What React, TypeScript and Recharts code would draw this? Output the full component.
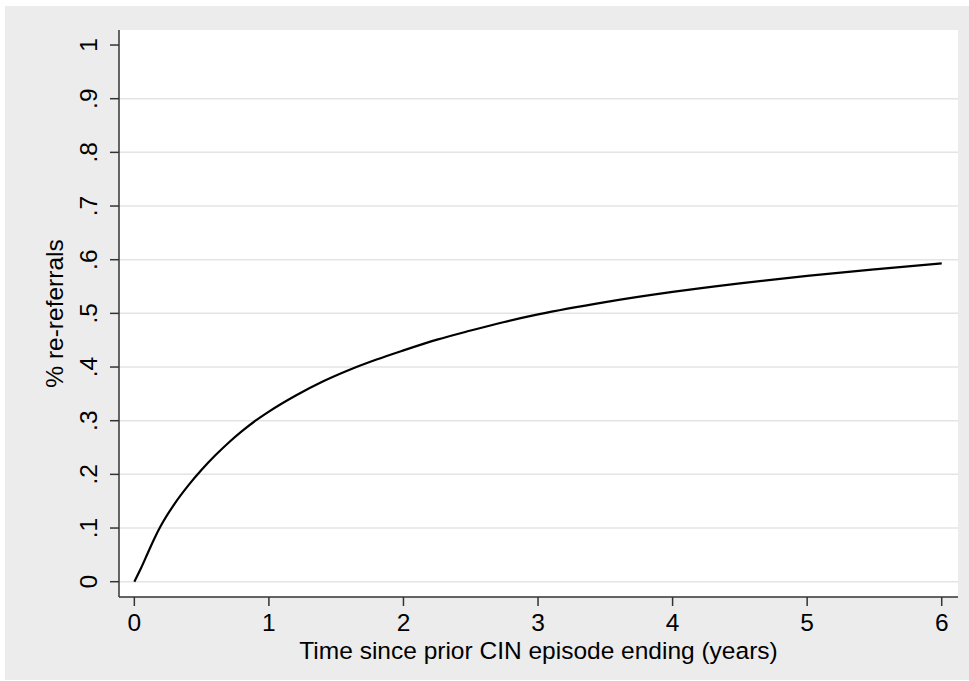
import { LineChart, Line, XAxis, YAxis, CartesianGrid, Label } from 'recharts';

// cumulative share of re-referrals
const years = [0, 0.05, 0.1, 0.15, 0.2, 0.3, 0.4, 0.5, 0.6, 0.7, 0.8, 0.9, 1.0, 1.2, 1.4, 1.6, 1.8, 2.0, 2.25, 2.5, 2.75, 3.0, 3.5, 4.0, 4.5, 5.0, 5.5, 6.0];
const reReferrals = [0, 0.0255, 0.0535, 0.081, 0.1055, 0.1455, 0.179, 0.2085, 0.235, 0.259, 0.2805, 0.3, 0.317, 0.347, 0.373, 0.395, 0.414, 0.431, 0.451, 0.468, 0.484, 0.498, 0.521, 0.54, 0.556, 0.57, 0.582, 0.593];

const xTicks = [0, 1, 2, 3, 4, 5, 6];
const yTicks = [0, 0.1, 0.2, 0.3, 0.4, 0.5, 0.6, 0.7, 0.8, 0.9, 1];
const yTickLabels = ['0', '.1', '.2', '.3', '.4', '.5', '.6', '.7', '.8', '.9', '1'];
const gridValues = [0, 0.1, 0.2, 0.3, 0.4, 0.5, 0.6, 0.7, 0.8, 0.9];

const xTitle = 'Time since prior CIN episode ending (years)';
const yTitle = '% re-referrals';

const data = years.map((t, i) => ({ t, v: reReferrals[i] }));

const FONT = '"Liberation Sans", Arial, sans-serif';
const FS = 24.5;

const YTick = ({ x, y, payload }: any) => {
  const i = yTicks.indexOf(payload.value);
  return (
    <text x={x} y={y} transform={`rotate(-90 ${x} ${y})`} textAnchor="middle"
      fontFamily={FONT} fontSize={FS} fill="#000">
      {i >= 0 ? yTickLabels[i] : payload.value}
    </text>
  );
};

const XTitle = ({ viewBox }: any) => {
  const cx = viewBox.x + viewBox.width / 2;
  return (
    <text x={cx} y={653} textAnchor="middle" fontFamily={FONT} fontSize={FS} fill="#000">
      {xTitle}
    </text>
  );
};

const YTitle = ({ viewBox }: any) => {
  const cy = viewBox.y + viewBox.height / 2;
  const x = 58;
  return (
    <text x={x} y={cy} transform={`rotate(-90 ${x} ${cy})`} textAnchor="middle"
      fontFamily={FONT} fontSize={FS} fill="#000">
      {yTitle}
    </text>
  );
};

export default function App() {
  return (
    <div style={{ position: 'absolute', left: 0, top: 0, width: 969, height: 681, background: '#fff' }}>
      <div style={{ position: 'absolute', left: 5, top: 6, width: 964, height: 674, background: '#ececec' }}>
        <LineChart width={964} height={674} data={data}
          margin={{ top: 24, right: 11, left: 0, bottom: 0 }}>
          <CartesianGrid horizontal vertical={false} fill="#ffffff" stroke="#e4e4e4"
            strokeWidth={1.5} horizontalValues={gridValues} />
          <XAxis dataKey="t" type="number" domain={[-0.114, 6.121]} ticks={xTicks}
            height={83} tickSize={9} tickMargin={8} interval={0}
            axisLine={{ stroke: '#333', strokeWidth: 1.5 }} tickLine={{ stroke: '#333', strokeWidth: 1.5 }}
            tick={{ fill: '#000', fontSize: FS, fontFamily: FONT }}>
            <Label content={<XTitle />} />
          </XAxis>
          <YAxis type="number" domain={[-0.0285, 1.028]} ticks={yTicks} width={114}
            tickSize={9} tickMargin={13} interval={0}
            axisLine={{ stroke: '#333', strokeWidth: 1.5 }} tickLine={{ stroke: '#333', strokeWidth: 1.5 }}
            tick={<YTick />}>
            <Label content={<YTitle />} />
          </YAxis>
          <Line type="monotone" dataKey="v" stroke="#000" strokeWidth={2.2} dot={false}
            isAnimationActive={false} />
        </LineChart>
      </div>
    </div>
  );
}
